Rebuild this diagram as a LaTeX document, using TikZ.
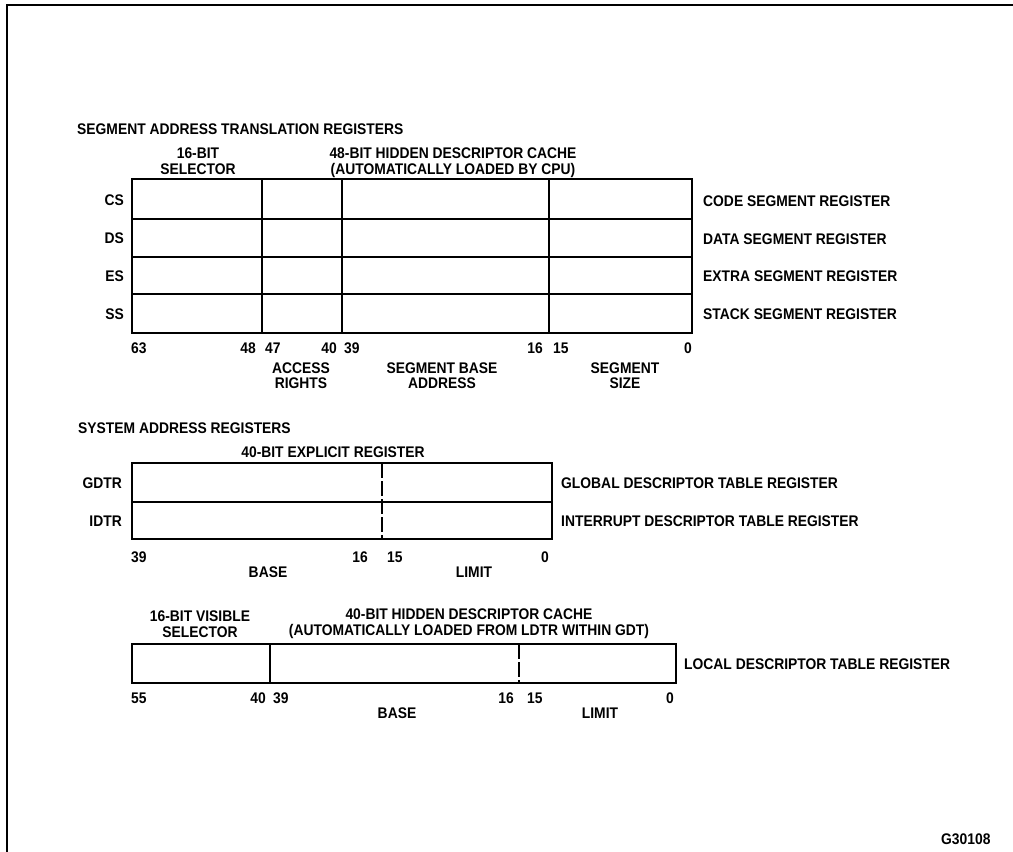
\documentclass[tikz,border=0pt]{standalone}
\usepackage{fontspec}
\setmainfont[FakeStretch=0.9]{Liberation Sans}
\begin{document}
\begin{tikzpicture}[x=1pt,y={(0pt,-1pt)}]
\tikzset{
  lbl/.style={font=\fontsize{15.4}{17}\selectfont\bfseries, inner sep=0pt},
  lw/.style={lbl, anchor=base west},
  le/.style={lbl, anchor=base east},
  lc/.style={lbl, anchor=base},
  outerbox/.style={line width=2.8pt},
  divline/.style={line width=1.8pt},
  dashdiv/.style={line width=1.8pt, dash pattern=on 15pt off 3pt},
  frameline/.style={line width=2.2pt},
}
\useasboundingbox (0,0) rectangle (1013,852);
% page frame
\draw[frameline] (7,852) -- (7,5) -- (1013,5);

% ---------- Segment address translation registers ----------
\node[lw] (t1) at (77,134) {SEGMENT ADDRESS TRANSLATION REGISTERS};
\node[lc] (sel1a) at (198,158) {16-BIT};
\node[lc] (sel1b) at (198,174) {SELECTOR};
\node[lc] (hid1a) at (453,158) {48-BIT HIDDEN DESCRIPTOR CACHE};
\node[lc] (hid1b) at (453,174) {(AUTOMATICALLY LOADED BY CPU)};

\draw[divline] (132,219) -- (692,219) (132,257) -- (692,257) (132,294) -- (692,294);
\draw[divline] (262,179) -- (262,333) (342,179) -- (342,333) (549,179) -- (549,333);
\draw[outerbox] (132,179) rectangle (692,333);

\node[le] (cs) at (124,205) {CS};
\node[le] (ds) at (124,243) {DS};
\node[le] (es) at (124,281) {ES};
\node[le] (ss) at (124,319) {SS};
\node[lw] (csr) at (703,206) {CODE SEGMENT REGISTER};
\node[lw] (dsr) at (703,244) {DATA SEGMENT REGISTER};
\node[lw] (esr) at (703,281) {EXTRA SEGMENT REGISTER};
\node[lw] (ssr) at (703,319) {STACK SEGMENT REGISTER};

\node[lw] (b63) at (131,353) {63};
\node[le] (b48) at (256,353) {48};
\node[lw] (b47) at (265,353) {47};
\node[le] (b40) at (337,353) {40};
\node[lw] (b39) at (344,353) {39};
\node[le] (b16) at (543,353) {16};
\node[lw] (b15) at (553,353) {15};
\node[le] (b0)  at (692,353) {0};

\node[lc] (acc1) at (301,373) {ACCESS};
\node[lc] (acc2) at (301,388) {RIGHTS};
\node[lc] (sba1) at (442,373) {SEGMENT BASE};
\node[lc] (sba2) at (442,388) {ADDRESS};
\node[lc] (ssz1) at (625,373) {SEGMENT};
\node[lc] (ssz2) at (625,388) {SIZE};

% ---------- System address registers ----------
\node[lw] (t2) at (78,433) {SYSTEM ADDRESS REGISTERS};
\node[lc] (exp) at (333,457) {40-BIT EXPLICIT REGISTER};

\draw[divline] (132,502) -- (552,502);
\draw[dashdiv] (382,463) -- (382,539);
\draw[outerbox] (132,463) rectangle (552,539);

\node[le] (gdtr) at (122,488) {GDTR};
\node[le] (idtr) at (122,526) {IDTR};
\node[lw] (gdtrl) at (561,488) {GLOBAL DESCRIPTOR TABLE REGISTER};
\node[lw] (idtrl) at (561,526) {INTERRUPT DESCRIPTOR TABLE REGISTER};

\node[lw] (c39) at (131,562) {39};
\node[le] (c16) at (368,562) {16};
\node[lw] (c15) at (387,562) {15};
\node[le] (c0)  at (549,562) {0};
\node[lc] (cbase) at (268,577) {BASE};
\node[lc] (climit) at (474,577) {LIMIT};

% ---------- Local descriptor table register ----------
\node[lc] (sel3a) at (200,621) {16-BIT VISIBLE};
\node[lc] (sel3b) at (200,637) {SELECTOR};
\node[lc] (hid3a) at (469,619) {40-BIT HIDDEN DESCRIPTOR CACHE};
\node[lc] (hid3b) at (469,635) {(AUTOMATICALLY LOADED FROM LDTR WITHIN GDT)};

\draw[divline] (270,644) -- (270,683);
\draw[dashdiv] (519,644) -- (519,683);
\draw[outerbox] (132,644) rectangle (676,683);

\node[lw] (ldtr) at (684,669) {LOCAL DESCRIPTOR TABLE REGISTER};

\node[lw] (d55) at (131,703) {55};
\node[le] (d40) at (266,703) {40};
\node[lw] (d39) at (273,703) {39};
\node[le] (d16) at (514,703) {16};
\node[lw] (d15) at (527,703) {15};
\node[le] (d0)  at (674,703) {0};
\node[lc] (dbase) at (397,718) {BASE};
\node[lc] (dlimit) at (600,718) {LIMIT};

\node[lw] (fig) at (941,844) {G30108};
\end{tikzpicture}
\end{document}
